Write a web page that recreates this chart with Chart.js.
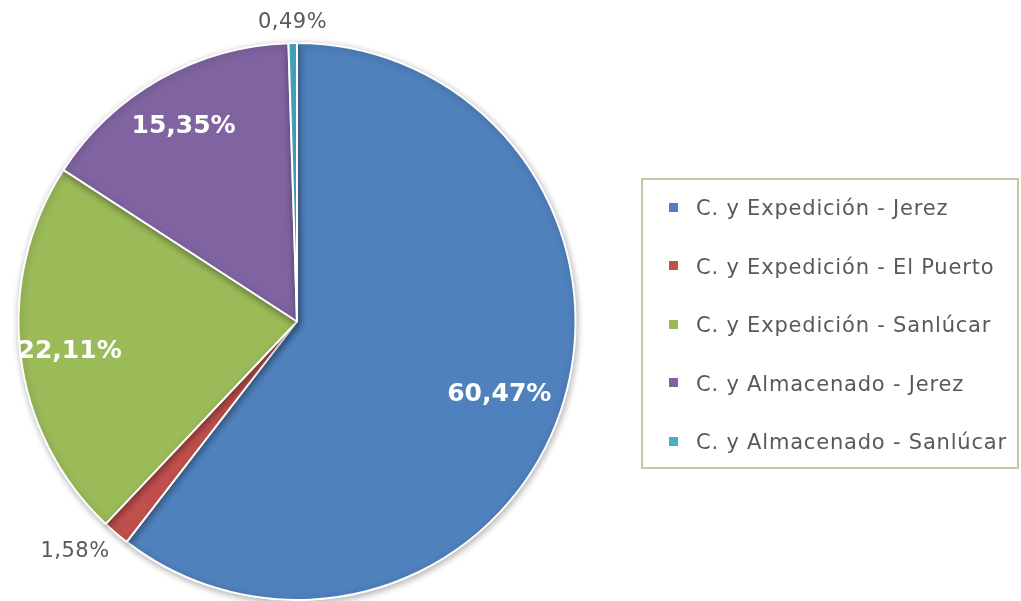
<!DOCTYPE html>
<html>
<head>
<meta charset="utf-8">
<script src="https://cdn.jsdelivr.net/npm/chart.js@4.4.1/dist/chart.umd.min.js"></script>
<style>
  html, body { margin: 0; padding: 0; background: #fff; }
  #marco { position: relative; width: 1021px; height: 601px; }
  #grafico { position: absolute; left: 0; top: 0; }
  #leyenda {
    position: absolute; left: 641px; top: 178px; width: 378px; height: 291px;
    border: 2px solid #cbc4a2; box-sizing: border-box;
    font-family: "DejaVu Sans", sans-serif; font-size: 21px; color: #595959; letter-spacing: 0.8px;
  }
  .fila { position: absolute; left: 26px; height: 30px; line-height: 30px; white-space: nowrap; }
  .marca { display: inline-block; width: 9px; height: 9px; margin-right: 18px; vertical-align: middle; position: relative; top: -2px; }
</style>
</head>
<body>
<div id="marco">
  <canvas id="grafico" width="1021" height="601"></canvas>
  <div id="leyenda"></div>
</div>
<script>
const etiquetas = [
  "C. y Expedición - Jerez",
  "C. y Expedición - El Puerto",
  "C. y Expedición - Sanlúcar",
  "C. y Almacenado - Jerez",
  "C. y Almacenado - Sanlúcar"
];
const porcentajes = [60.47, 1.58, 22.11, 15.35, 0.49];
const colores = ["#4f81bd", "#c0504d", "#9bbb59", "#8064a2", "#4bacc6"];

const pct = (v) => v.toFixed(2).replace(".", ",") + "%";

// leyenda en HTML con el marco del original
const leyenda = document.getElementById("leyenda");
etiquetas.forEach((et, i) => {
  const fila = document.createElement("div");
  fila.className = "fila";
  fila.style.top = (13 + i * 58.6) + "px";
  fila.innerHTML = `<span class="marca" style="background:${colores[i]}"></span>${et}`;
  leyenda.appendChild(fila);
});

// etiquetas de porcentaje: dentro en blanco y negrita, fuera en gris
const rotulos = {
  id: "rotulos",
  afterDatasetsDraw(chart, args, opts) {
    const ctx = chart.ctx;
    const arcos = chart.getDatasetMeta(0).data;
    ctx.save();
    arcos.forEach((a, i) => {
      const ang = (a.startAngle + a.endAngle) / 2;
      const c = Math.cos(ang), s = Math.sin(ang);
      const f = opts.radio[i];
      const r = a.outerRadius * f;
      if (f > 1) {
        // fuera: la esquina más cercana del texto toca el punto radial
        ctx.font = "21px 'DejaVu Sans', sans-serif";
        ctx.letterSpacing = "0.5px";
        ctx.fillStyle = "#595959";
        ctx.textAlign = c < -0.3 ? "right" : c > 0.3 ? "left" : "center";
        ctx.textBaseline = s > 0.3 ? "top" : s < -0.3 ? "bottom" : "middle";
        ctx.fillText(pct(porcentajes[i]), a.x + c * r, a.y + s * r);
      } else {
        ctx.font = "bold 25px 'DejaVu Sans', sans-serif";
        ctx.letterSpacing = "0px";
        ctx.fillStyle = "#ffffff";
        ctx.textAlign = "center";
        ctx.textBaseline = "middle";
        ctx.fillText(pct(porcentajes[i]), a.x + c * r - 2, a.y + s * r + 3);
      }
    });
    ctx.restore();
  }
};

// sombra suave alrededor de la tarta
const sombra = {
  id: "sombra",
  beforeDatasetsDraw(chart) {
    const ctx = chart.ctx;
    ctx.save();
    ctx.shadowColor = "rgba(0,0,0,0.3)";
    ctx.shadowBlur = 7;
    ctx.shadowOffsetX = 1;
    ctx.shadowOffsetY = 2;
  },
  afterDatasetsDraw(chart) {
    chart.ctx.restore();
  }
};

new Chart(document.getElementById("grafico"), {
  type: "pie",
  data: {
    labels: etiquetas,
    datasets: [{
      data: porcentajes,
      backgroundColor: colores,
      borderColor: "#ffffff",
      borderWidth: 2,
    }]
  },
  plugins: [sombra, rotulos],
  options: {
    responsive: false,
    animation: false,
    layout: { padding: { left: 17, right: 444, top: 42, bottom: 0 } },
    plugins: {
      legend: { display: false },
      tooltip: { enabled: false },
      rotulos: { radio: [0.775, 1.035, 0.815, 0.815, 1.035] },
    },
  },
});
</script>
</body>
</html>
